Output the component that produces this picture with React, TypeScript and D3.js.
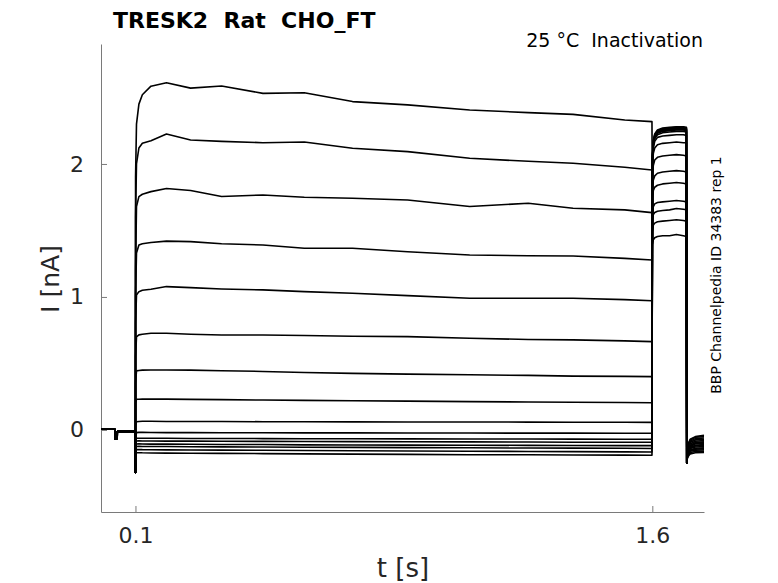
import React, { useEffect, useRef } from 'react';
import * as d3 from 'd3';

// holding level before the prepulse (same for every sweep)
const baselineTimes = [0, 0.04, 0.0402, 0.047, 0.0472, 0.0995];
const baselineCurrents = [0.005, 0.005, -0.07, -0.065, -0.012, -0.012];
const onsetTime = 0.1;
const onsetSpike = -0.32;

// prepulse 0.1 .. 1.6 s, one row per sweep
const pulseTimes = [0.1003, 0.103, 0.11, 0.12, 0.145, 0.19, 0.26, 0.35, 0.47, 0.59, 0.73, 0.89, 1.07, 1.24, 1.37, 1.52, 1.599];
const pulseCurrents = [
  [1.9, 2.3, 2.45, 2.52, 2.585, 2.61, 2.57, 2.586, 2.531, 2.535, 2.469, 2.444, 2.406, 2.386, 2.373, 2.331, 2.318],
  [1.6, 2.0, 2.12, 2.155, 2.175, 2.225, 2.18, 2.17, 2.16, 2.165, 2.118, 2.093, 2.043, 2.02, 2.005, 1.975, 1.955],
  [1.2, 1.68, 1.754, 1.772, 1.792, 1.815, 1.8, 1.755, 1.767, 1.75, 1.742, 1.729, 1.68, 1.705, 1.667, 1.655, 1.634],
  [1.0, 1.33, 1.39, 1.4, 1.41, 1.42, 1.416, 1.4, 1.391, 1.366, 1.366, 1.34, 1.316, 1.31, 1.308, 1.29, 1.278],
  [0.8, 1.015, 1.04, 1.05, 1.058, 1.078, 1.07, 1.06, 1.053, 1.04, 1.028, 1.01, 0.99, 0.99, 0.99, 0.98, 0.972],
  [0.55, 0.7, 0.715, 0.72, 0.727, 0.727, 0.72, 0.714, 0.714, 0.71, 0.705, 0.702, 0.69, 0.68, 0.677, 0.67, 0.664],
  [0.35, 0.444, 0.447, 0.45, 0.451, 0.451, 0.45, 0.445, 0.44, 0.432, 0.425, 0.42, 0.415, 0.41, 0.405, 0.403, 0.401],
  [0.2, 0.231, 0.231, 0.232, 0.232, 0.232, 0.23, 0.228, 0.225, 0.222, 0.22, 0.217, 0.213, 0.21, 0.208, 0.206, 0.205],
  [0.03, 0.062, 0.064, 0.065, 0.065, 0.064, 0.064, 0.063, 0.062, 0.062, 0.061, 0.06, 0.06, 0.059, 0.058, 0.058, 0.057],
  [-0.05, -0.02, -0.018, -0.018, -0.019, -0.02, -0.02, -0.021, -0.021, -0.022, -0.022, -0.023, -0.023, -0.024, -0.024, -0.025, -0.025],
  [-0.08, -0.063, -0.062, -0.062, -0.063, -0.063, -0.064, -0.064, -0.065, -0.066, -0.066, -0.067, -0.068, -0.068, -0.069, -0.07, -0.07],
  [-0.1, -0.083, -0.082, -0.083, -0.083, -0.084, -0.084, -0.085, -0.086, -0.087, -0.088, -0.089, -0.09, -0.091, -0.092, -0.093, -0.093],
  [-0.12, -0.106, -0.105, -0.106, -0.107, -0.107, -0.108, -0.109, -0.11, -0.112, -0.113, -0.114, -0.115, -0.116, -0.117, -0.118, -0.118],
  [-0.14, -0.124, -0.123, -0.124, -0.125, -0.125, -0.126, -0.127, -0.128, -0.13, -0.131, -0.133, -0.134, -0.136, -0.137, -0.138, -0.139],
  [-0.16, -0.148, -0.147, -0.148, -0.149, -0.15, -0.151, -0.152, -0.153, -0.155, -0.156, -0.158, -0.16, -0.162, -0.163, -0.165, -0.166],
  [-0.18, -0.172, -0.171, -0.172, -0.173, -0.174, -0.175, -0.176, -0.178, -0.18, -0.182, -0.184, -0.186, -0.187, -0.188, -0.189, -0.19],
];

// test pulse 1.6 .. 1.7 s
const testTimes = [1.6005, 1.603, 1.607, 1.615, 1.63, 1.65, 1.67, 1.69, 1.699];
const testCurrents = [
  [1.4, 1.43, 1.445, 1.455, 1.46, 1.46, 1.47, 1.46, 1.455],
  [1.5, 1.54, 1.555, 1.565, 1.57, 1.575, 1.58, 1.575, 1.57],
  [1.58, 1.62, 1.635, 1.645, 1.65, 1.655, 1.665, 1.66, 1.655],
  [1.63, 1.68, 1.7, 1.71, 1.715, 1.72, 1.725, 1.72, 1.715],
  [1.75, 1.8, 1.825, 1.84, 1.85, 1.855, 1.86, 1.855, 1.85],
  [1.83, 1.88, 1.91, 1.93, 1.94, 1.945, 1.95, 1.945, 1.94],
  [1.92, 1.99, 2.03, 2.05, 2.06, 2.065, 2.07, 2.065, 2.06],
  [2.0, 2.08, 2.12, 2.145, 2.155, 2.16, 2.165, 2.16, 2.16],
  [2.03, 2.12, 2.17, 2.2, 2.21, 2.215, 2.22, 2.22, 2.215],
  [2.04, 2.14, 2.19, 2.22, 2.235, 2.24, 2.245, 2.245, 2.24],
  [2.05, 2.15, 2.2, 2.23, 2.245, 2.25, 2.255, 2.255, 2.25],
  [2.05, 2.155, 2.205, 2.235, 2.25, 2.255, 2.26, 2.26, 2.255],
  [2.06, 2.16, 2.21, 2.24, 2.255, 2.26, 2.265, 2.265, 2.26],
  [2.06, 2.165, 2.215, 2.245, 2.26, 2.265, 2.27, 2.27, 2.265],
  [2.07, 2.17, 2.22, 2.25, 2.265, 2.27, 2.275, 2.275, 2.27],
  [2.07, 2.175, 2.225, 2.255, 2.27, 2.275, 2.28, 2.28, 2.275],
];

// tail after the test pulse
const tailTimes = [1.7, 1.7008, 1.704, 1.71, 1.725, 1.75];
const tailCurrents = [
  [-0.25, -0.2, -0.16, -0.13, -0.115, -0.11],
  [-0.25, -0.2, -0.155, -0.125, -0.105, -0.1],
  [-0.25, -0.19, -0.15, -0.12, -0.1, -0.095],
  [-0.25, -0.19, -0.145, -0.115, -0.095, -0.09],
  [-0.25, -0.185, -0.14, -0.105, -0.085, -0.08],
  [-0.25, -0.18, -0.13, -0.095, -0.075, -0.07],
  [-0.25, -0.175, -0.12, -0.085, -0.065, -0.06],
  [-0.25, -0.17, -0.11, -0.075, -0.055, -0.05],
  [-0.25, -0.165, -0.105, -0.07, -0.05, -0.04],
  [-0.25, -0.205, -0.165, -0.135, -0.12, -0.115],
  [-0.25, -0.21, -0.17, -0.14, -0.128, -0.125],
  [-0.25, -0.21, -0.175, -0.15, -0.138, -0.135],
  [-0.25, -0.215, -0.18, -0.155, -0.145, -0.14],
  [-0.25, -0.215, -0.185, -0.16, -0.152, -0.15],
  [-0.25, -0.22, -0.19, -0.17, -0.162, -0.16],
  [-0.25, -0.22, -0.2, -0.18, -0.172, -0.17],
];

const xTicks = [0.1, 1.6];
const yTicks = [0, 1, 2];

const App: React.FC = () => {
  const ref = useRef<SVGSVGElement | null>(null);

  useEffect(() => {
    document.body.style.margin = '0';
    const svg = d3.select(ref.current);
    svg.selectAll('*').remove();

    const font = 'DejaVu Sans';
    const axisColor = '#7a7a7a';
    const textColor = '#262626';

    const x = d3.scaleLinear().domain([0, 1.75]).range([101, 704]);
    const y = d3.scaleLinear().domain([-0.617, 2.902]).range([512, 44]);

    // axes, ticks pointing inward
    const xAxis = svg.append('g')
      .attr('transform', 'translate(0,512)')
      .call(d3.axisBottom(x).tickValues(xTicks).tickSizeInner(-6).tickSizeOuter(0).tickPadding(15).tickFormat(d3.format('.1f')));
    const yAxis = svg.append('g')
      .attr('transform', 'translate(101,0)')
      .call(d3.axisLeft(y).tickValues(yTicks).tickSizeInner(-6).tickSizeOuter(0).tickPadding(17).tickFormat(d3.format('d')));
    [xAxis, yAxis].forEach(g => {
      g.select('.domain').attr('stroke', axisColor);
      g.selectAll('.tick line').attr('stroke', axisColor);
      g.selectAll('.tick text')
        .attr('fill', textColor)
        .style('font-family', font)
        .style('font-size', '22px');
    });

    // sweeps
    const line = d3.line<[number, number]>()
      .x(d => x(d[0]))
      .y(d => y(d[1]));

    const traces = pulseCurrents.map((row, i) => {
      const pts: [number, number][] = [];
      baselineTimes.forEach((t, j) => pts.push([t, baselineCurrents[j]]));
      pts.push([onsetTime, onsetSpike]);
      pulseTimes.forEach((t, j) => pts.push([t, row[j]]));
      testTimes.forEach((t, j) => pts.push([t, testCurrents[i][j]]));
      tailTimes.forEach((t, j) => pts.push([t, tailCurrents[i][j]]));
      return pts;
    });

    svg.append('g')
      .selectAll('path')
      .data(traces)
      .join('path')
      .attr('d', d => line(d))
      .attr('fill', 'none')
      .attr('stroke', '#000')
      .attr('stroke-width', 1.6)
      .attr('stroke-linejoin', 'round');

    // labels
    svg.append('text')
      .attr('x', 403).attr('y', 577)
      .attr('text-anchor', 'middle')
      .attr('fill', textColor)
      .style('font-family', font).style('font-size', '26px')
      .text('t [s]');

    svg.append('text')
      .attr('transform', 'translate(59,279) rotate(-90)')
      .attr('text-anchor', 'middle')
      .attr('fill', textColor)
      .style('font-family', font).style('font-size', '25px')
      .text('I [nA]');

    svg.append('text')
      .attr('x', 113).attr('y', 28)
      .attr('fill', '#000')
      .attr('xml:space', 'preserve')
      .style('white-space', 'pre')
      .style('font-family', font).style('font-size', '22px').style('font-weight', 'bold')
      .text('TRESK2  Rat  CHO_FT');

    svg.append('text')
      .attr('x', 703).attr('y', 47)
      .attr('text-anchor', 'end')
      .attr('fill', '#000')
      .style('white-space', 'pre')
      .style('font-family', font).style('font-size', '19px')
      .text('25 °C  Inactivation');

    svg.append('text')
      .attr('transform', 'translate(721,275) rotate(-90)')
      .attr('text-anchor', 'middle')
      .attr('fill', '#000')
      .style('font-family', font).style('font-size', '14px')
      .text('BBP Channelpedia ID 34383 rep 1');
  }, []);

  return <svg ref={ref} width={778} height={583} style={{ display: 'block', background: '#fff' }} />;
};

export default App;
